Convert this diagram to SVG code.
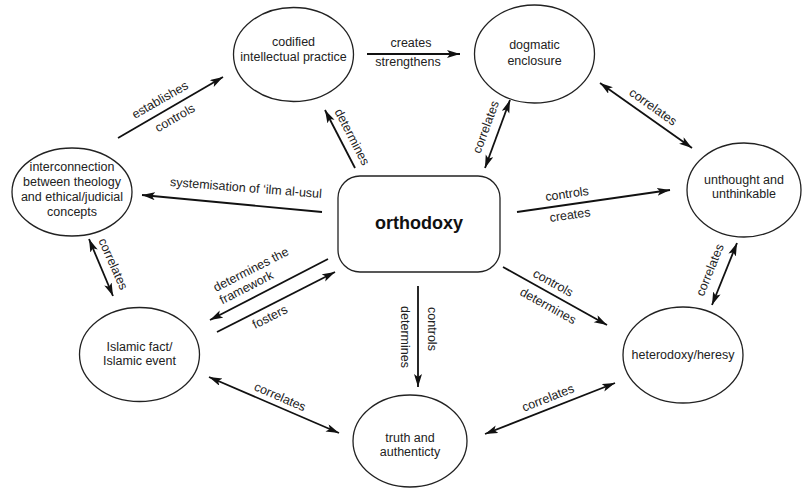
<svg xmlns="http://www.w3.org/2000/svg" width="803" height="490" viewBox="0 0 803 490">
<style>
.node{fill:#fff;stroke:#222;stroke-width:1.3}
.t{font-family:"Liberation Sans",Arial,sans-serif;font-size:12.5px;fill:#222;text-anchor:middle}
.lb{font-family:"Liberation Sans",Arial,sans-serif;font-size:12.5px;fill:#222;text-anchor:middle}
.big{font-family:"Liberation Sans",Arial,sans-serif;font-size:18px;font-weight:bold;fill:#111;text-anchor:middle}
.e{fill:none;stroke:#111;stroke-width:1.8}
.one{marker-end:url(#ah)}
.two{marker-start:url(#ah);marker-end:url(#ah)}
</style>
<defs>
<marker id="ah" markerUnits="userSpaceOnUse" markerWidth="14" markerHeight="9" refX="13" refY="4" orient="auto-start-reverse">
<path d="M0,0 L13,4 L0,8 L3,4 z" fill="#111"/>
</marker>
</defs>
<rect width="803" height="490" fill="#fff"/>
<g id="connectors">
<g id="e-inter-codified"><path class="e one" d="M118,138 L223,77"/>
<text class="lb" transform="translate(160,100) rotate(-30)" y="4">establishes</text>
<text class="lb" transform="translate(175,118) rotate(-30)" y="4">controls</text></g>
<g id="e-codified-dogmatic"><path class="e one" d="M367,54 L460,54"/>
<text class="lb" x="411" y="47">creates</text>
<text class="lb" x="408" y="66">strengthens</text></g>
<g id="e-orth-codified"><path class="e one" d="M355,168 L325,110"/>
<text class="lb" transform="translate(352,137) rotate(62.6)" y="4">determines</text></g>
<g id="e-orth-inter"><path class="e one" d="M322,212 L142,195"/>
<text class="lb" transform="translate(246,188) rotate(4.5)" y="4">systemisation of ‘ilm al-usul</text></g>
<g id="e-dogmatic-orth"><path class="e two" d="M510,100 L485,168"/>
<text class="lb" transform="translate(486,127) rotate(-70)" y="4">correlates</text></g>
<g id="e-dogmatic-unthought"><path class="e two" d="M600,83 L692,148"/>
<text class="lb" transform="translate(653,107) rotate(35.2)" y="4">correlates</text></g>
<g id="e-orth-unthought"><path class="e one" d="M517,212 L670,190"/>
<text class="lb" transform="translate(567,194) rotate(-8.2)" y="4">controls</text>
<text class="lb" transform="translate(570,215) rotate(-8.2)" y="4">creates</text></g>
<g id="e-inter-islamic"><path class="e two" d="M89,239 L113,296"/>
<text class="lb" transform="translate(113,264) rotate(66)" y="4">correlates</text></g>
<g id="e-orth-islamic"><path class="e one" d="M328,259 L210,320"/>
<text class="lb" style="text-anchor:start" transform="translate(216,292) rotate(-27)"><tspan x="0" y="0">determines the</tspan><tspan x="0" y="14">framework</tspan></text></g>
<g id="e-islamic-orth"><path class="e one" d="M217,332 L335,272"/>
<text class="lb" transform="translate(270,317) rotate(-27)" y="4">fosters</text></g>
<g id="e-islamic-truth"><path class="e two" d="M209,377 L339,433"/>
<text class="lb" transform="translate(280,397) rotate(23.5)" y="4">correlates</text></g>
<g id="e-orth-truth"><path class="e one" d="M418,286 L418,387"/>
<text class="lb" transform="translate(432,329) rotate(90)" y="4">controls</text>
<text class="lb" transform="translate(405,337) rotate(90)" y="4">determines</text></g>
<g id="e-orth-heterodoxy"><path class="e one" d="M503,267 L607,325"/>
<text class="lb" transform="translate(553,283) rotate(29)" y="4">controls</text>
<text class="lb" transform="translate(548,306) rotate(29)" y="4">determines</text></g>
<g id="e-truth-heterodoxy"><path class="e two" d="M485,434 L615,383"/>
<text class="lb" transform="translate(548,398) rotate(-21.5)" y="4">correlates</text></g>
<g id="e-unthought-heterodoxy"><path class="e two" d="M737,243 L712,305"/>
<text class="lb" transform="translate(710,270) rotate(-68)" y="4">correlates</text></g>
</g>
<g id="n-codified"><ellipse class="node" cx="293.5" cy="54.5" rx="60" ry="47"/>
<text class="t" x="293.5" y="46">codified</text><text class="t" x="293.5" y="61">intellectual practice</text></g>
<g id="n-dogmatic"><ellipse class="node" cx="534.5" cy="54" rx="60" ry="49"/>
<text class="t" x="534.5" y="49">dogmatic</text><text class="t" x="534.5" y="65">enclosure</text></g>
<g id="n-interconnection"><ellipse class="node" cx="72" cy="192" rx="60" ry="44"/>
<text class="t" x="72" y="171">interconnection</text><text class="t" x="72" y="186">between theology</text><text class="t" x="72" y="201">and ethical/judicial</text><text class="t" x="72" y="216">concepts</text></g>
<g id="n-unthought"><ellipse class="node" cx="744" cy="190" rx="57" ry="47"/>
<text class="t" x="744" y="184">unthought and</text><text class="t" x="744" y="198">unthinkable</text></g>
<g id="n-orthodoxy"><rect class="node" x="338" y="176" width="162" height="96" rx="22"/>
<text class="big" x="419" y="229">orthodoxy</text></g>
<g id="n-islamic"><ellipse class="node" cx="139.5" cy="354.5" rx="60" ry="47"/>
<text class="t" x="139.5" y="351">Islamic fact/</text><text class="t" x="139.5" y="365">Islamic event</text></g>
<g id="n-heterodoxy"><ellipse class="node" cx="683" cy="355" rx="60" ry="48"/>
<text class="t" x="683" y="359">heterodoxy/heresy</text></g>
<g id="n-truth"><ellipse class="node" cx="410" cy="441" rx="57" ry="46"/>
<text class="t" x="410" y="442">truth and</text><text class="t" x="410" y="456">authenticty</text></g>
</svg>
